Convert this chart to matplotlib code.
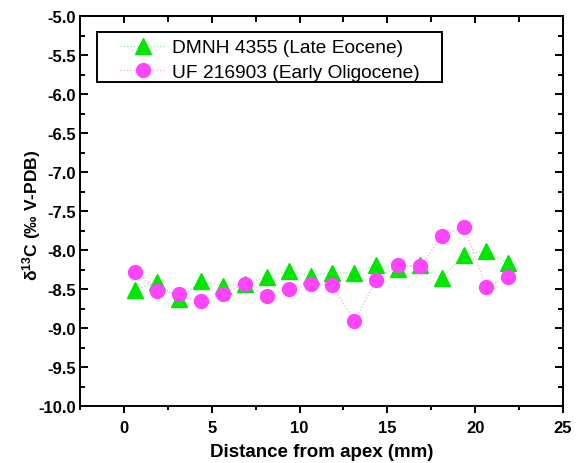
import matplotlib
matplotlib.use("Agg")
import matplotlib.pyplot as plt
from matplotlib.ticker import MultipleLocator, FormatStrFormatter
from matplotlib.patches import Rectangle

plt.rcParams['font.family'] = ['Liberation Sans', 'DejaVu Sans']
plt.rcParams['mathtext.fontset'] = 'custom'
plt.rcParams['mathtext.rm'] = 'Liberation Sans:bold'
plt.rcParams['mathtext.default'] = 'rm'

# Data
distance = [0.625, 1.875, 3.125, 4.375, 5.625, 6.875, 8.125, 9.375, 10.625,
            11.875, 13.125, 14.375, 15.625, 16.875, 18.125, 19.375, 20.625, 21.875]
dmnh = [-8.51, -8.41, -8.63, -8.40, -8.46, -8.44, -8.34, -8.27, -8.33,
        -8.29, -8.30, -8.19, -8.24, -8.19, -8.36, -8.06, -8.01, -8.17]
uf = [-8.28, -8.52, -8.57, -8.66, -8.56, -8.43, -8.59, -8.50, -8.44,
      -8.45, -8.91, -8.38, -8.19, -8.21, -7.82, -7.70, -8.47, -8.35]
labels = ['DMNH 4355 (Late Eocene)', 'UF 216903 (Early Oligocene)']
xlabel = 'Distance from apex (mm)'
ylabel = r'$\delta^{13}$C (‰ V-PDB)'

fig = plt.figure(figsize=(5.81, 4.64), dpi=100)
ax = fig.add_axes([80/581, 1-407/464, 483/581, 390/464])

ax.plot(distance, dmnh, linestyle=':', color='#8cf08c', linewidth=0.9,
        marker='^', markersize=11, markerfacecolor='#00e600',
        markeredgecolor='#00e600', label=labels[0], zorder=3)
ax.plot(distance, uf, linestyle=':', color='#ff9cff', linewidth=0.9,
        marker='o', markersize=10, markerfacecolor='#ff44ff',
        markeredgecolor='#ff44ff', label=labels[1], zorder=3)

ax.set_xlim(-2.5, 25)
ax.set_ylim(-10.0, -5.0)
ax.xaxis.set_major_locator(MultipleLocator(5))
ax.xaxis.set_minor_locator(MultipleLocator(2.5))
ax.yaxis.set_major_locator(MultipleLocator(0.5))
ax.yaxis.set_minor_locator(MultipleLocator(0.25))
ax.yaxis.set_major_formatter(FormatStrFormatter('%.1f'))

for s in ax.spines.values():
    s.set_linewidth(1.4)

ax.tick_params(axis='x', which='both', direction='out', top=False, width=1.4)
ax.tick_params(axis='x', which='major', length=5, pad=5)
ax.tick_params(axis='x', which='minor', length=3)
ax.tick_params(axis='y', which='both', direction='in', left=True, right=True, width=1.4)
ax.tick_params(axis='y', which='major', length=6, pad=3)
ax.tick_params(axis='y', which='minor', length=3.5)
# top ticks inward
sec = ax.secondary_xaxis('top')
sec.xaxis.set_major_locator(MultipleLocator(5))
sec.xaxis.set_minor_locator(MultipleLocator(2.5))
sec.tick_params(axis='x', which='both', direction='in', labeltop=False, width=1.4)
sec.tick_params(axis='x', which='major', length=5)
sec.tick_params(axis='x', which='minor', length=4)
sec.spines['top'].set_linewidth(1.4)

for lab in ax.get_xticklabels() + ax.get_yticklabels():
    lab.set_fontweight('bold')
    lab.set_fontsize(12)

ax.set_xlabel(xlabel, fontsize=13.5, fontweight='bold', labelpad=6)
ax.set_ylabel(ylabel, fontsize=12.5, fontweight='bold')
ax.yaxis.set_label_coords(-0.077, 0.49)

leg = ax.legend(loc='upper left', bbox_to_anchor=(0.0837, 0.941), borderaxespad=0,
                frameon=False, fontsize=13.8,
                handlelength=2.34, handletextpad=0.36, labelspacing=0.38,
                borderpad=0)
ax.add_patch(Rectangle((17/483, 324/390), 345/483, 50/390, transform=ax.transAxes,
                       fill=False, edgecolor='black', linewidth=1.4, clip_on=False,
                       zorder=4))

fig.savefig('out.png', dpi=100)
